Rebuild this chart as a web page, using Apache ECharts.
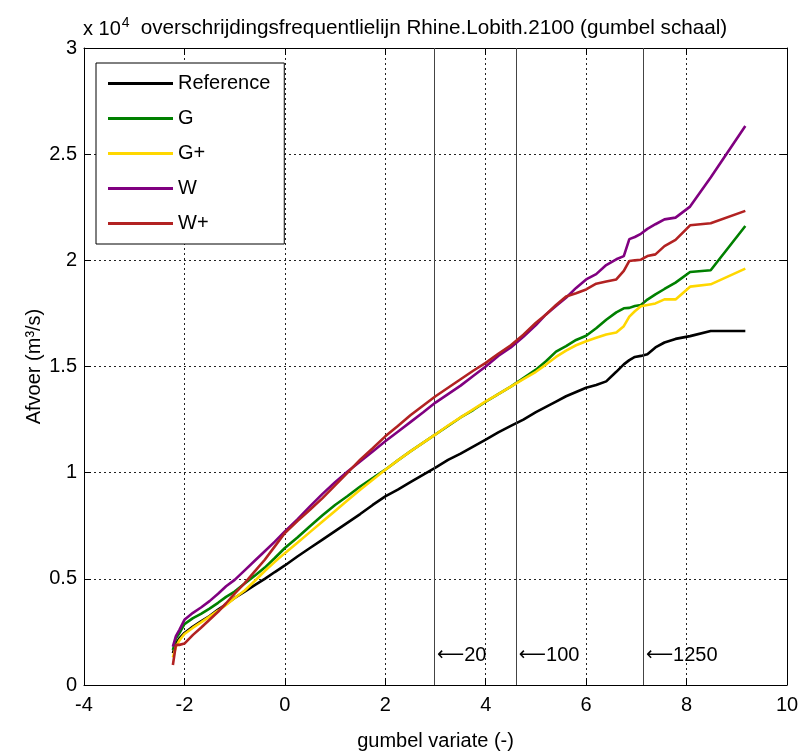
<!DOCTYPE html>
<html>
<head>
<meta charset="utf-8">
<script src="https://cdn.jsdelivr.net/npm/echarts@6/dist/echarts.min.js"></script>
<style>
html,body{margin:0;padding:0;background:#fff;}
#chart{width:803px;height:753px;}
</style>
</head>
<body>
<div id="chart"></div>
<script>
// Gumbel reduced variate (shared x for all series)
const gumbelX = [-2.23, -2.17, -2.10, -2.00, -1.83, -1.67, -1.50, -1.33, -1.17, -1.00,
  -0.80, -0.60, -0.40, -0.20, 0.00, 0.25, 0.50, 0.75, 1.00, 1.25,
  1.50, 1.75, 2.00, 2.25, 2.50, 2.75, 3.00, 3.25, 3.50, 3.75,
  4.00, 4.25, 4.50, 4.75, 5.00, 5.20, 5.40, 5.60, 5.80, 6.00,
  6.20, 6.40, 6.60, 6.75, 6.86, 6.97, 7.09, 7.22, 7.38, 7.56,
  7.78, 8.07, 8.48, 9.17];

// Afvoer (m3/s)
const referenceQ = [1500, 1950, 2200, 2450, 2750, 3000, 3250, 3550, 3800, 4100,
  4400, 4700, 5000, 5320, 5630, 6050, 6450, 6850, 7250, 7650,
  8050, 8480, 8880, 9200, 9550, 9900, 10240, 10600, 10900, 11230,
  11560, 11900, 12200, 12500, 12850, 13100, 13350, 13600, 13800, 14000,
  14130, 14300, 14750, 15100, 15300, 15450, 15500, 15580, 15900, 16130,
  16300, 16430, 16670, 16670];

const gQ = [1650, 2200, 2440, 2870, 3150, 3350, 3600, 3870, 4150, 4400,
  4780, 5150, 5530, 5980, 6450, 6950, 7480, 7990, 8480, 8900,
  9350, 9750, 10140, 10580, 11000, 11400, 11800, 12200, 12600, 12950,
  13340, 13700, 14050, 14450, 14850, 15250, 15700, 15960, 16250, 16450,
  16800, 17200, 17550, 17740, 17760, 17850, 17900, 18150, 18400, 18650,
  18950, 19450, 19530, 21620];

const gPlusQ = [1300, 1800, 2100, 2400, 2700, 2950, 3220, 3500, 3770, 4100,
  4450, 4900, 5370, 5800, 6210, 6700, 7200, 7700, 8200, 8700,
  9200, 9670, 10140, 10580, 11000, 11400, 11800, 12220, 12600, 12980,
  13360, 13700, 14050, 14400, 14750, 15090, 15450, 15750, 16000, 16190,
  16350, 16510, 16600, 16900, 17350, 17600, 17840, 17900, 17970, 18160,
  18160, 18760, 18870, 19610];

const wQ = [1810, 2300, 2600, 3070, 3400, 3650, 3950, 4300, 4650, 4950,
  5400, 5850, 6300, 6750, 7230, 7800, 8410, 9000, 9550, 10050,
  10530, 11000, 11480, 11930, 12380, 12830, 13300, 13700, 14100, 14550,
  15000, 15500, 15900, 16400, 16950, 17450, 17850, 18240, 18700, 19100,
  19350, 19780, 20050, 20200, 21000, 21100, 21250, 21480, 21700, 21930,
  22010, 22530, 23900, 26330];

const wPlusQ = [940, 1890, 1890, 1950, 2360, 2700, 3070, 3450, 3850, 4300,
  4800, 5350, 5900, 6530, 7160, 7720, 8250, 8800, 9400, 10000,
  10610, 11150, 11710, 12200, 12700, 13150, 13600, 14000, 14400, 14800,
  15170, 15600, 16000, 16500, 17060, 17450, 17900, 18300, 18450, 18630,
  18900, 19000, 19100, 19500, 19970, 20000, 20030, 20200, 20280, 20670,
  20960, 21650, 21750, 22330];

const seriesNames = ['Reference', 'G', 'G+', 'W', 'W+'];
const seriesValues = [referenceQ, gQ, gPlusQ, wQ, wPlusQ];
const seriesColors = ['#000000', '#008000', '#FFD700', '#800080', '#B22222'];

// return periods (years) and their gumbel variates
const returnPeriods = [20, 100, 1250];
const returnPeriodX = [2.97, 4.60, 7.13];
const annotationQ = 1400;

const xTicks = {min: -4, max: 10, interval: 2};
const yTicks = {min: 0, max: 30000, interval: 5000};

const FONT = '"Liberation Sans", Arial, sans-serif';

const chart = echarts.init(document.getElementById('chart'), null, {renderer: 'canvas'});

const gridLine = {show: true, lineStyle: {color: '#222', width: 1, type: [2, 3]}};
const baseX = {type: 'value', min: xTicks.min, max: xTicks.max, interval: xTicks.interval,
  axisLine: {show: true, onZero: false, lineStyle: {color: '#000', width: 1}},
  axisTick: {show: true, inside: true, length: 7, lineStyle: {color: '#000'}}};
const baseY = {type: 'value', min: yTicks.min, max: yTicks.max, interval: yTicks.interval,
  axisLine: {show: true, onZero: false, lineStyle: {color: '#000', width: 1}},
  axisTick: {show: true, inside: true, length: 7, lineStyle: {color: '#000'}}};

const lineSeries = seriesNames.map((name, k) => ({
  name: name,
  type: 'line',
  xAxisIndex: 0, yAxisIndex: 0,
  data: gumbelX.map((x, i) => [x, seriesValues[k][i]]),
  showSymbol: false,
  symbol: 'none',
  lineStyle: {color: seriesColors[k], width: 2.6},
  itemStyle: {color: seriesColors[k]},
  animation: false,
  z: 3 + k
}));

const annotationSeries = {
  name: 'returnPeriods',
  type: 'scatter',
  xAxisIndex: 0, yAxisIndex: 0,
  data: returnPeriodX.map((x, i) => ({value: [x, annotationQ], T: returnPeriods[i]})),
  symbolSize: 0,
  silent: true,
  animation: false,
  itemStyle: {opacity: 1},
  label: {show: true, position: 'right', distance: 3, opacity: 1,
    formatter: p => '{arr|\u27F5}{num|' + p.data.T + '}',
    rich: {
      arr: {fontFamily: '"DejaVu Sans", sans-serif', fontSize: 19, color: '#000', opacity: 1},
      num: {fontFamily: FONT, fontSize: 20, color: '#000', opacity: 1}
    },
    fontFamily: FONT, fontSize: 20, color: '#000'},
  markLine: {
    silent: true, symbol: 'none', animation: false,
    label: {show: false},
    lineStyle: {color: '#444', width: 1, type: 'solid', opacity: 1},
    data: returnPeriodX.map(x => ({xAxis: x}))
  },
  z: 2
};

const option = {
  animation: false,
  backgroundColor: '#fff',
  textStyle: {fontFamily: FONT},
  grid: {left: 84, right: 16, top: 48, bottom: 68, show: false,
    containLabel: false, outerBoundsMode: 'none'},
  xAxis: [
    Object.assign({}, baseX, {position: 'bottom',
      axisLabel: {show: true, fontSize: 20, color: '#000', fontFamily: FONT, margin: 10},
      splitLine: gridLine,
      name: 'gumbel variate (-)', nameLocation: 'middle', nameGap: 46, nameMoveOverlap: false,
      nameTextStyle: {fontSize: 20, color: '#000', fontFamily: FONT}}),
    Object.assign({}, baseX, {position: 'top', axisLabel: {show: false}, splitLine: {show: false}})
  ],
  yAxis: [
    Object.assign({}, baseY, {position: 'left',
      axisLabel: {show: true, fontSize: 20, color: '#000', fontFamily: FONT, margin: 7,
        formatter: v => String(v / 10000)},
      splitLine: gridLine,
      name: 'Afvoer (m\u00B3/s)', nameLocation: 'middle', nameGap: 40, nameMoveOverlap: false,
      nameTextStyle: {fontSize: 20, color: '#000', fontFamily: FONT}}),
    Object.assign({}, baseY, {position: 'right', axisLabel: {show: false}, splitLine: {show: false}})
  ],
  legend: {
    data: seriesNames,
    orient: 'vertical',
    left: 96, top: 63,
    padding: [10, 14, 10, 12],
    itemGap: 14,
    itemWidth: 65, itemHeight: 3,
    icon: 'rect',
    backgroundColor: '#fff',
    borderColor: '#000', borderWidth: 1, borderRadius: 0,
    textStyle: {fontSize: 20, color: '#000', fontFamily: FONT, lineHeight: 21},
    z: 10
  },
  graphic: [
    {type: 'text', left: 83, top: 16, z: 10,
      style: {text: '{a|x 10}{b|4}', fontFamily: FONT,
        rich: {a: {fontSize: 20, fontFamily: FONT, fill: '#000'},
               b: {fontSize: 14, fontFamily: FONT, fill: '#000', padding: [0, 0, 12, 1]}}}},
    {type: 'text', x: 434, y: 28, z: 10,
      style: {text: 'overschrijdingsfrequentlielijn Rhine.Lobith.2100 (gumbel schaal)',
        fontFamily: FONT, fontSize: 20.7, fill: '#000', textAlign: 'center', textVerticalAlign: 'middle'}}
  ],
  series: lineSeries.concat([annotationSeries])
};

chart.setOption(option);
</script>
</body>
</html>
